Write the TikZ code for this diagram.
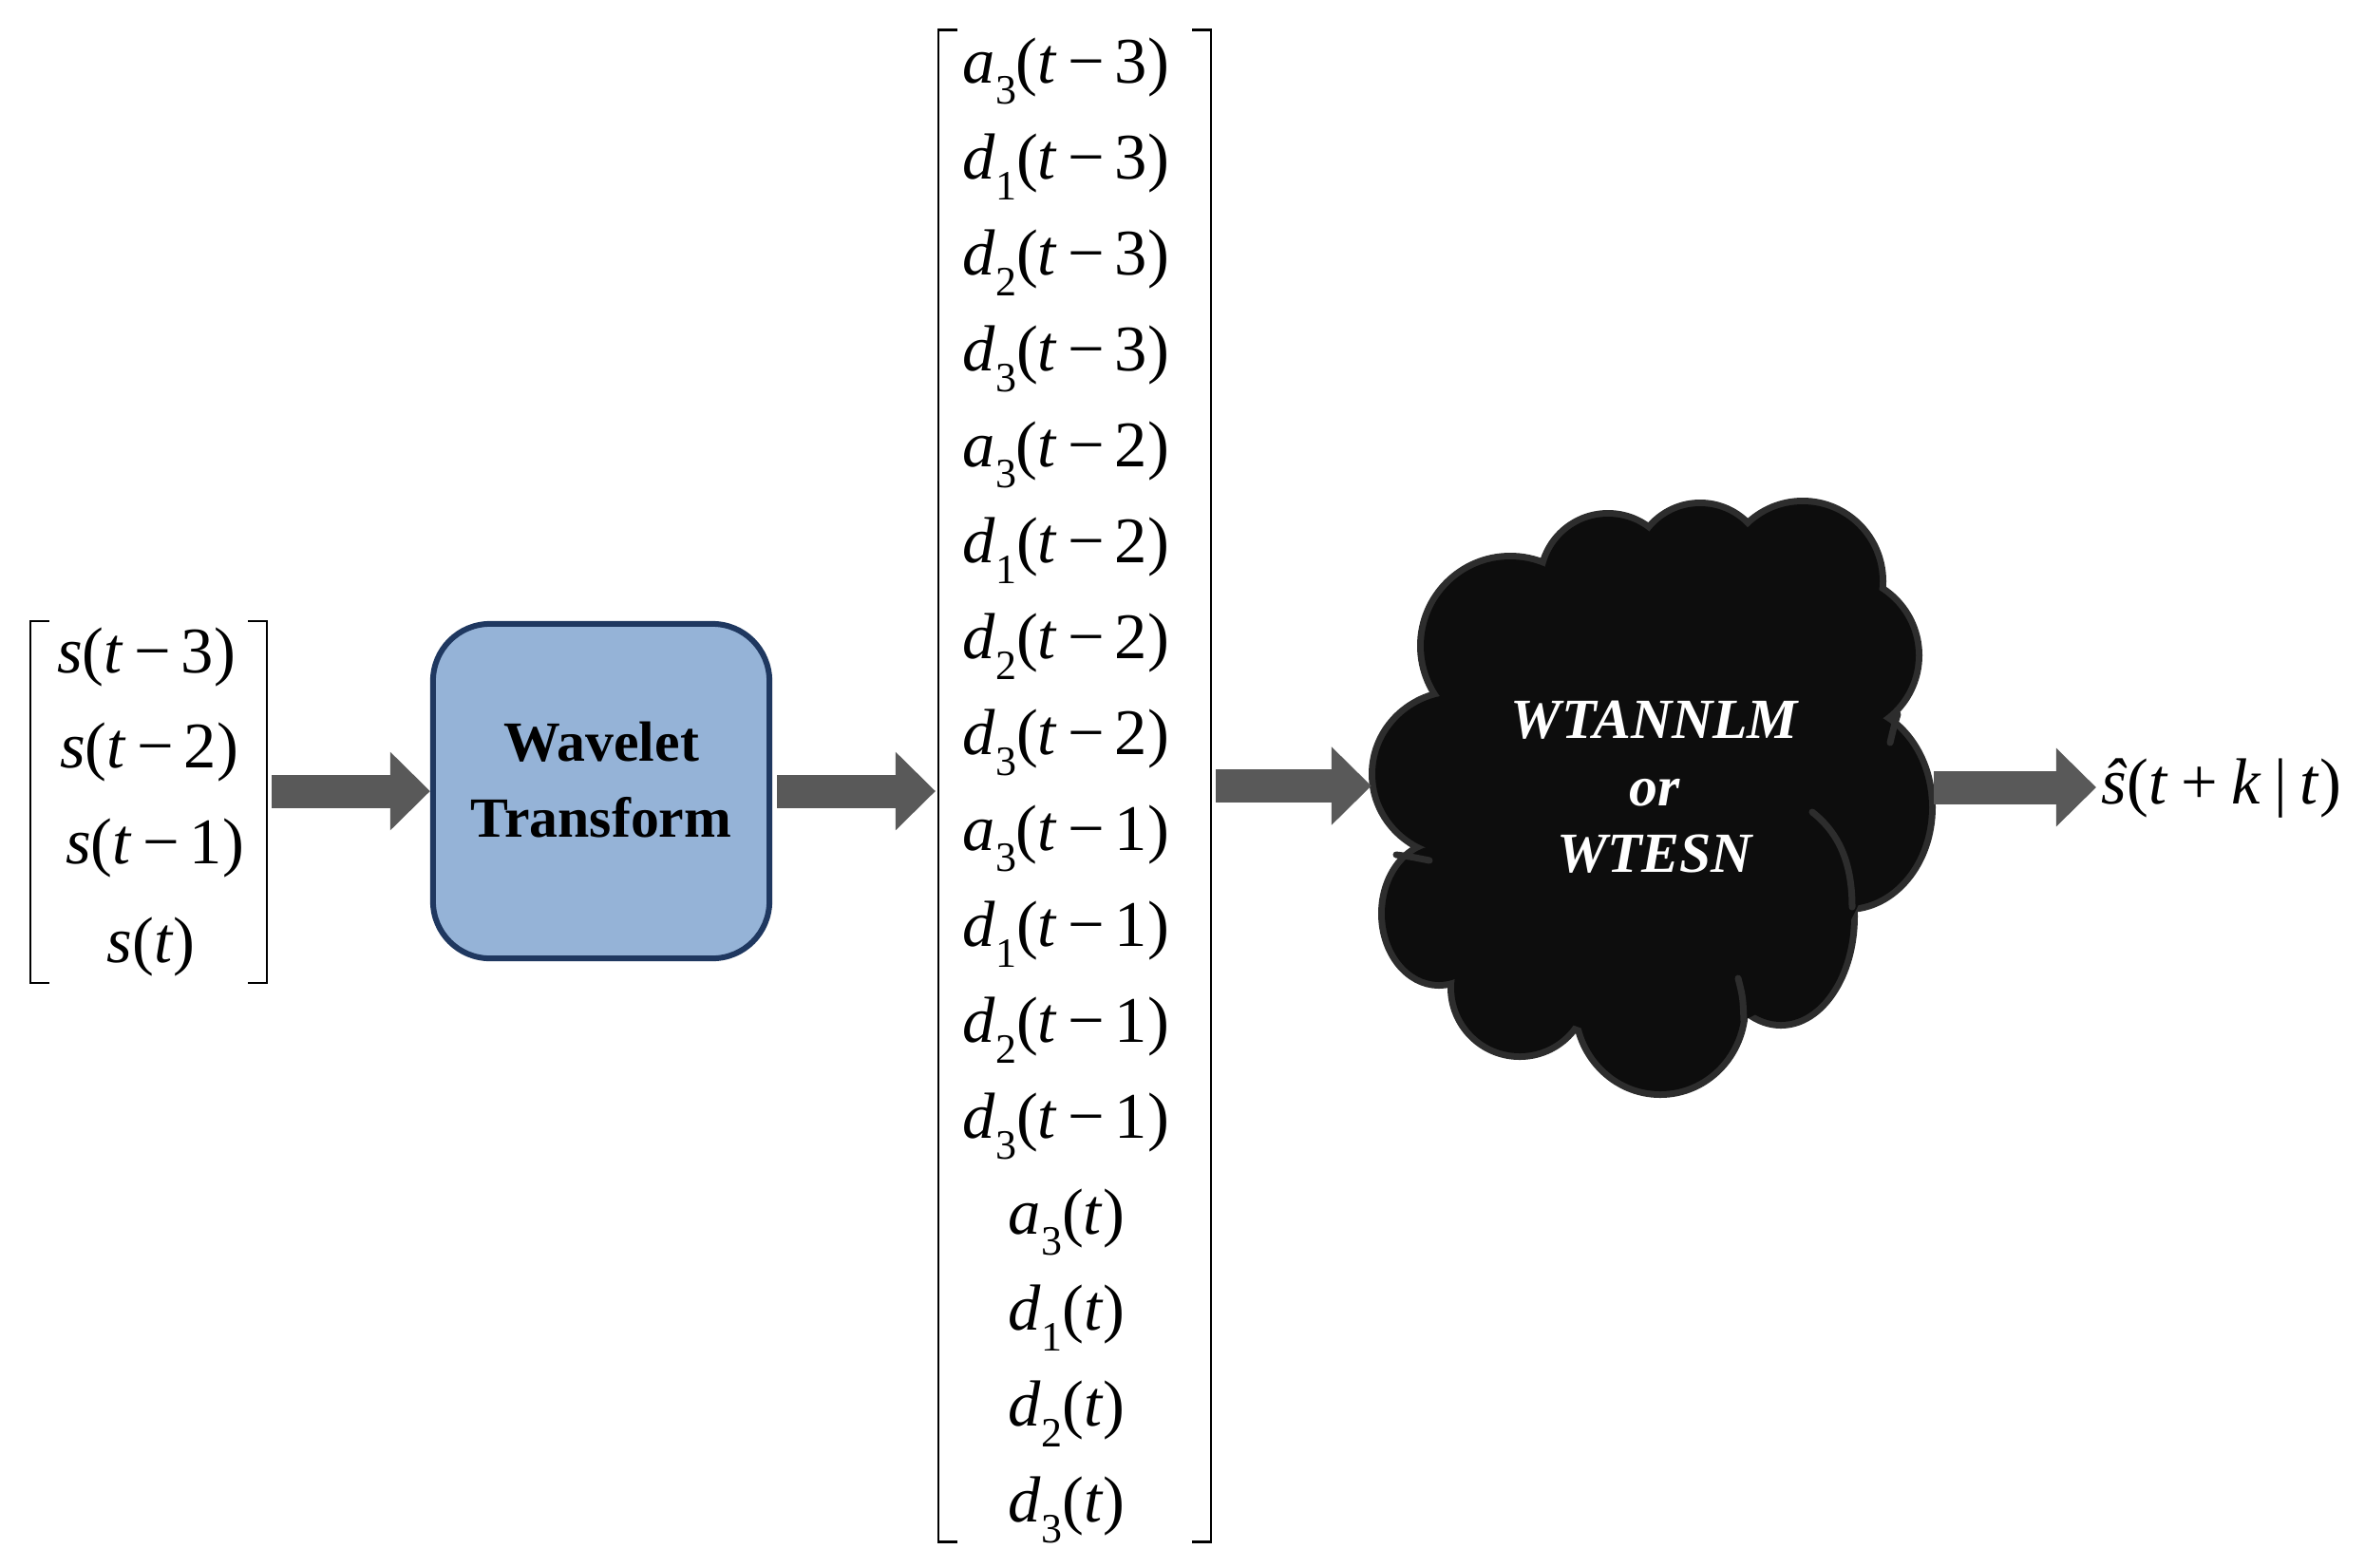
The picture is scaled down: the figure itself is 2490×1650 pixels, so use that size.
\documentclass[tikz,border=0pt]{standalone}
\usepackage{fontspec}
\setmainfont{Liberation Serif}
\usetikzlibrary{arrows.meta}
\definecolor{arrowgray}{RGB}{89,89,89}
\definecolor{boxfill}{RGB}{149,179,215}
\definecolor{boxdraw}{RGB}{31,56,96}
\definecolor{cloudfill}{RGB}{13,13,13}
\definecolor{cloudedge}{RGB}{45,45,45}
\newcommand\mysub[1]{\raisebox{-0.32em}{\fontsize{12.5}{12.5}\selectfont #1}}
\newcommand\mi[1]{\textit{#1}}
\newcommand\mm{\hspace{0.16em}−\hspace{0.16em}}
\newcommand\ent[3]{\mi{#1}\mysub{#2}(\mi{t}\mm #3)}
\begin{document}
\begin{tikzpicture}[x=0.01cm,y=-0.01cm,
  entry/.style={font=\fontsize{19.5}{22}\selectfont, inner sep=0pt, text height=13.5pt, text depth=3.5pt},
  brk/.style={line width=0.025cm, black},
  bigarrow/.style={draw=arrowgray, line width=0.35cm, line cap=butt, -{Triangle[length=0.42cm,width=0.8cm]}},
  wtbox/.style={draw=boxdraw, fill=boxfill, line width=0.06cm, rounded corners=0.6cm, minimum width=3.54cm, minimum height=3.52cm, inner sep=0pt},
  holder/.style={inner sep=0pt, outer sep=0pt},
  cloudedgest/.style={draw=cloudedge, line width=0.14cm},
  cloudfillst/.style={fill=cloudfill},
  cloudline/.style={draw=cloudedge, line width=0.07cm, line cap=round},
]
\useasboundingbox (0,0) rectangle (2490,1650);

% ---------- input vector ----------
\node[holder, minimum width=2.49cm, minimum height=3.81cm] (sv) at (156.5,844.5) {};
\draw[brk] ([xshift=0.2cm]sv.north west) -- (sv.north west) -- (sv.south west) -- ([xshift=0.2cm]sv.south west);
\draw[brk] ([xshift=-0.2cm]sv.north east) -- (sv.north east) -- (sv.south east) -- ([xshift=-0.2cm]sv.south east);
\node[entry] (s3) at (154,691) {\mi{s}(\mi{t}\mm 3)};
\node[entry] (s2) at (157,791) {\mi{s}(\mi{t}\mm 2)};
\node[entry] (s1) at (163,892) {\mi{s}(\mi{t}\mm 1)};
\node[entry] (s0) at (159,996) {\mi{s}(\mi{t})};

% ---------- wavelet transform ----------
\node[wtbox] (wt) at (633,833) {};
\node[font=\bfseries\fontsize{17}{23}\selectfont, align=center, inner sep=0pt] (wtlabel) at (633,821) {Wavelet\\Transform};

% ---------- decomposed vector ----------
\node[holder, minimum width=2.87cm, minimum height=15.91cm] (dv) at (1131.5,827.5) {};
\draw[brk] ([xshift=0.2cm]dv.north west) -- (dv.north west) -- (dv.south west) -- ([xshift=0.2cm]dv.south west);
\draw[brk] ([xshift=-0.2cm]dv.north east) -- (dv.north east) -- (dv.south east) -- ([xshift=-0.2cm]dv.south east);
\foreach \L/\S/\A [count=\i from 0] in {a/3/3,d/1/3,d/2/3,d/3/3,a/3/2,d/1/2,d/2/2,d/3/2,a/3/1,d/1/1,d/2/1,d/3/1}
  \node[entry, anchor=west] (v\i) at (1013,{70+101*\i}) {\ent{\L}{\S}{\A}};
\foreach \L/\S [count=\i from 12] in {a/3,d/1,d/2,d/3}
  \node[entry] (v\i) at (1123,{70+101*\i}) {\mi{\L}\mysub{\S}(\mi{t})};

% ---------- cloud ----------
\node[holder, minimum width=5.92cm, minimum height=6.32cm] (cloud) at (1740,840) {};
\foreach \cx/\cy/\rx/\ry in {1535/815/87/84, 1515/962/57/72, 1600/1040/69/69, 1748/1060/86/89, 1875/965/74/111, 1945/850/86/104, 1935/690/82/81, 1898/612/81/81, 1790/600/67/67, 1693/612/68/68, 1590/680/91/91}
  \draw[cloudedgest] (\cx,\cy) ellipse [x radius=\rx, y radius=\ry];
\foreach \cx/\cy/\rx/\ry in {1535/815/87/84, 1515/962/57/72, 1600/1040/69/69, 1748/1060/86/89, 1875/965/74/111, 1945/850/86/104, 1935/690/82/81, 1898/612/81/81, 1790/600/67/67, 1693/612/68/68, 1590/680/91/91, 1740/845/240/250}
  \fill[cloudfillst] (\cx,\cy) ellipse [x radius=\rx, y radius=\ry];
\draw[cloudline] (1908,855) .. controls (1940,880) and (1950,915) .. (1950,955);
\draw[cloudline] (1470,900) .. controls (1485,902) .. (1505,906);
\draw[cloudline] (1998,752) .. controls (1994,765) .. (1990,782);
\draw[cloudline] (1830,1030) .. controls (1835,1050) .. (1836,1075);
\node[font=\bfseries\itshape\fontsize{17}{20}\selectfont, text=white, align=center, inner sep=0pt] (cloudlabel) at (1742,829) {WTANNLM\\or\\WTESN};

% ---------- output ----------
\node[entry, anchor=west] (out) at (2212,829) {\mi{ŝ}(\mi{t}\hspace{0.2em}+\hspace{0.2em}\mi{k}\hspace{0.2em}|\hspace{0.2em}\mi{t})};

% ---------- arrows ----------
\draw[bigarrow, shorten <=0.05cm] (sv.east |- wt.west) -- (wt.west);
\draw[bigarrow, shorten <=0.05cm, shorten >=0.03cm] (wt.east) -- (wt.east -| dv.west);
\draw[bigarrow, shorten <=0.05cm] (dv.east) -- (dv.east -| cloud.west);
\draw[bigarrow, shorten >=0.05cm] (cloud.east |- out.west) -- (out.west);
\end{tikzpicture}
\end{document}
